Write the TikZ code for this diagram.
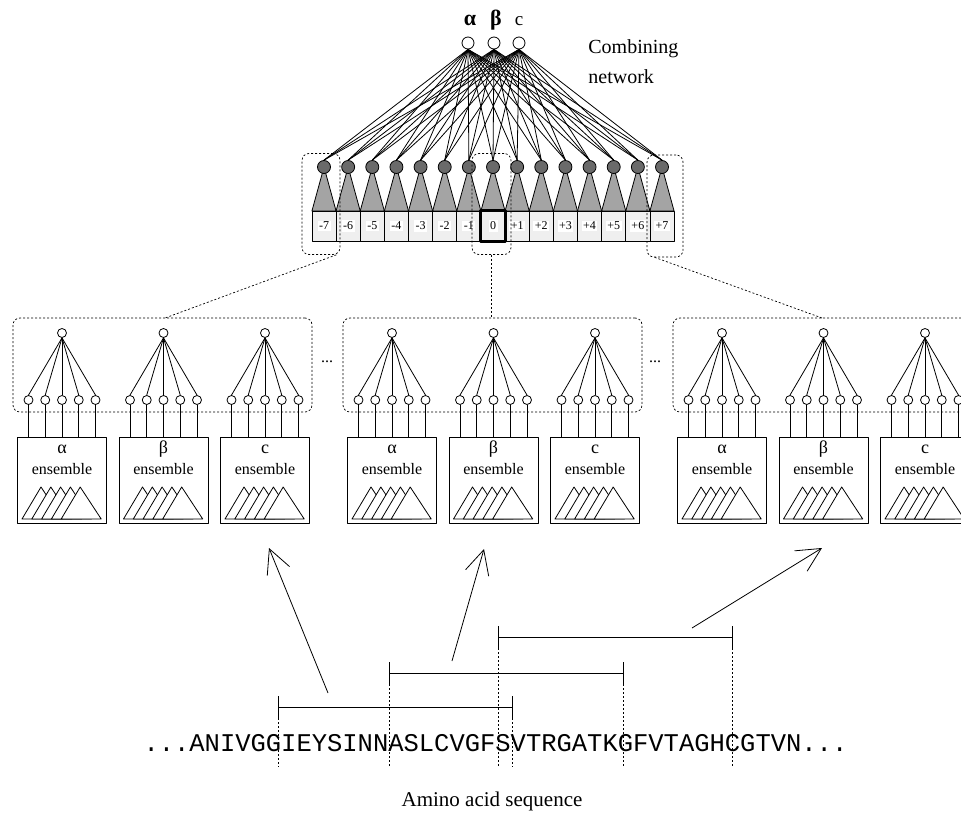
\documentclass[tikz,border=0pt]{standalone}
\usepackage{fontspec}
\setmainfont{Liberation Serif}
\newfontfamily\seqfont{Liberation Mono}
\usetikzlibrary{arrows.meta}
\definecolor{trigray}{HTML}{A4A4A4}
\definecolor{circgray}{HTML}{6A6A6A}
\definecolor{boxgray}{HTML}{EFEFEF}
\begin{document}
\begin{tikzpicture}[x=1pt,y=-1pt, line width=0.8pt, line join=round,
  outnode/.style={circle,draw,fill=white,inner sep=0pt,minimum size=12pt},
  hidnode/.style={circle,draw,fill=circgray,inner sep=0pt,minimum size=13pt},
  posbox/.style={draw,fill=boxgray,minimum width=24.14pt,minimum height=30pt,inner sep=0pt},
  poslabel/.style={fill=white,inner sep=1.5pt,font=\fontsize{12}{12}\selectfont},
  unit/.style={circle,draw,fill=white,inner sep=0pt,minimum size=9pt},
  ensbox/.style={draw,fill=white,minimum width=89pt,minimum height=86pt,inner sep=0pt},
  enslabel/.style={inner sep=0pt,font=\fontsize{16}{16}\selectfont},
  greeklabel/.style={inner sep=0pt,font=\fontsize{18}{18}\selectfont},
  dotbox/.style={draw,dash pattern=on 2pt off 2pt,rounded corners=7pt,inner sep=0pt,line width=0.7pt},
  dotline/.style={dash pattern=on 2pt off 2pt,line width=0.7pt},
  arr/.style={-{Straight Barb[length=24pt,width=24pt]}},
  toplabel/.style={inner sep=0pt,font=\fontsize{20}{20}\selectfont}
]
\useasboundingbox (0,0) rectangle (961,816);

% combining network outputs
\node[outnode] (o1) at (468,43) {};
\node[outnode] (o2) at (494,43) {};
\node[outnode] (o3) at (519,43) {};
\node[toplabel,anchor=base,font=\fontsize{22}{22}\selectfont] (l1) at (470,26) {\bfseries α};
\node[toplabel,anchor=base,font=\fontsize{22}{22}\selectfont] (l2) at (496,26) {\bfseries β};
\node[toplabel,anchor=base,font=\fontsize{19}{19}\selectfont] (l3) at (519,26) {c};
\node[toplabel,anchor=base west] (cn1) at (588,54) {Combining};
\node[toplabel,anchor=base west] (cn2) at (588,83) {network};

% hidden row
\foreach \lab [count=\i from 0] in {-7,-6,-5,-4,-3,-2,-1,0,+1,+2,+3,+4,+5,+6,+7}{
  \pgfmathsetmacro\x{324+24.143*\i}
  \draw[fill=trigray] (\x,167) -- (\x-12.07,211) -- (\x+12.07,211) -- cycle;
  \node[hidnode] (h\i) at (\x,167) {};
  \node[posbox] (b\i) at (\x,226) {};
  \node[poslabel] (t\i) at (\x,226) {\lab};
}
\draw[line width=2.5pt] (b7.north west) rectangle (b7.south east);
\foreach \o in {1,2,3}{
  \foreach \i in {0,...,14}{
    \draw (o\o.south) -- (h\i.north);
  }
}

% dotted selections
\node[dotbox,minimum width=38pt,minimum height=101pt] (d1) at (321,204) {};
\node[dotbox,minimum width=39pt,minimum height=101pt] (d2) at (491.5,204) {};
\node[dotbox,minimum width=36pt,minimum height=102pt] (d3) at (665,206) {};

% groups of ensembles
\foreach \g in {0,1,2}{
  \pgfmathsetmacro\gx{330*\g}
  \node[dotbox,minimum width=299pt,minimum height=94pt] (grp\g) at (162.5+\gx,365) {};
  \foreach \k/\lab in {0/α,1/β,2/c}{
    \pgfmathsetmacro\c{62+\gx+101.5*\k}
    \node[unit] (top\g\k) at (\c,333) {};
    \node[ensbox] (ens\g\k) at (\c,480) {};
    \node[greeklabel] (la\g\k) at (\c,449) {\lab};
    \node[enslabel] (le\g\k) at (\c,469) {ensemble};
    \foreach \j in {0,...,4}{
      \pgfmathsetmacro\ux{\c+16.75*(\j-2)}
      \node[unit] (u\g\k\j) at (\ux,400) {};
      \draw (top\g\k.south) -- (u\g\k\j.north);
      \draw (u\g\k\j.south) -- (u\g\k\j.south |- ens\g\k.north);
    }
    \foreach \m in {0,...,4}{
      \pgfmathsetmacro\tx{\c-40+9.8*\m}
      \draw[fill=white] (\tx,519) -- (\tx+19,487) -- (\tx+40,519) -- cycle;
    }
  }
}
\node[enslabel] (dots1) at (327,362) {...};
\node[enslabel] (dots2) at (655,362) {...};

\coordinate (j1) at (165,318);
\coordinate (j3) at (822,318);
\draw[dotline] ([xshift=-4pt]d1.south east) -- (j1);
\draw[dotline] (d2.south) -- (d2.south |- grp1.north);
\draw[dotline] ([xshift=8pt]d3.south west) -- (j3);

% arrows
\coordinate (a1s) at (328,693); \coordinate (a1e) at (269,548);
\coordinate (a2s) at (452,661); \coordinate (a2e) at (484,549);
\coordinate (a3s) at (692,628); \coordinate (a3e) at (822,548);
\draw[arr] (a1s) -- (a1e);
\draw[arr] (a2s) -- (a2e);
\draw[arr] (a3s) -- (a3e);

% windows
\foreach \xa/\xb/\yy in {278/512/707, 389/623/673, 498/732/637}{
  \draw (\xa,\yy) -- (\xb,\yy);
  \draw (\xa,\yy-11) -- (\xa,\yy+11);
  \draw (\xb,\yy-11) -- (\xb,\yy+11);
  \draw[dotline] (\xa,\yy+11) -- (\xa,767);
  \draw[dotline] (\xb,\yy+11) -- (\xb,767);
}

\node[anchor=base,inner sep=0pt,font=\seqfont\fontsize{25.5}{25.5}\selectfont] (seq) at (495.5,751) {...ANIVGGIEYSINNASLCVGFSVTRGATKGFVTAGHCGTVN...};
\node[anchor=base,inner sep=0pt,font=\fontsize{21}{21}\selectfont] (aas) at (492,806) {Amino acid sequence};
\end{tikzpicture}
\end{document}
